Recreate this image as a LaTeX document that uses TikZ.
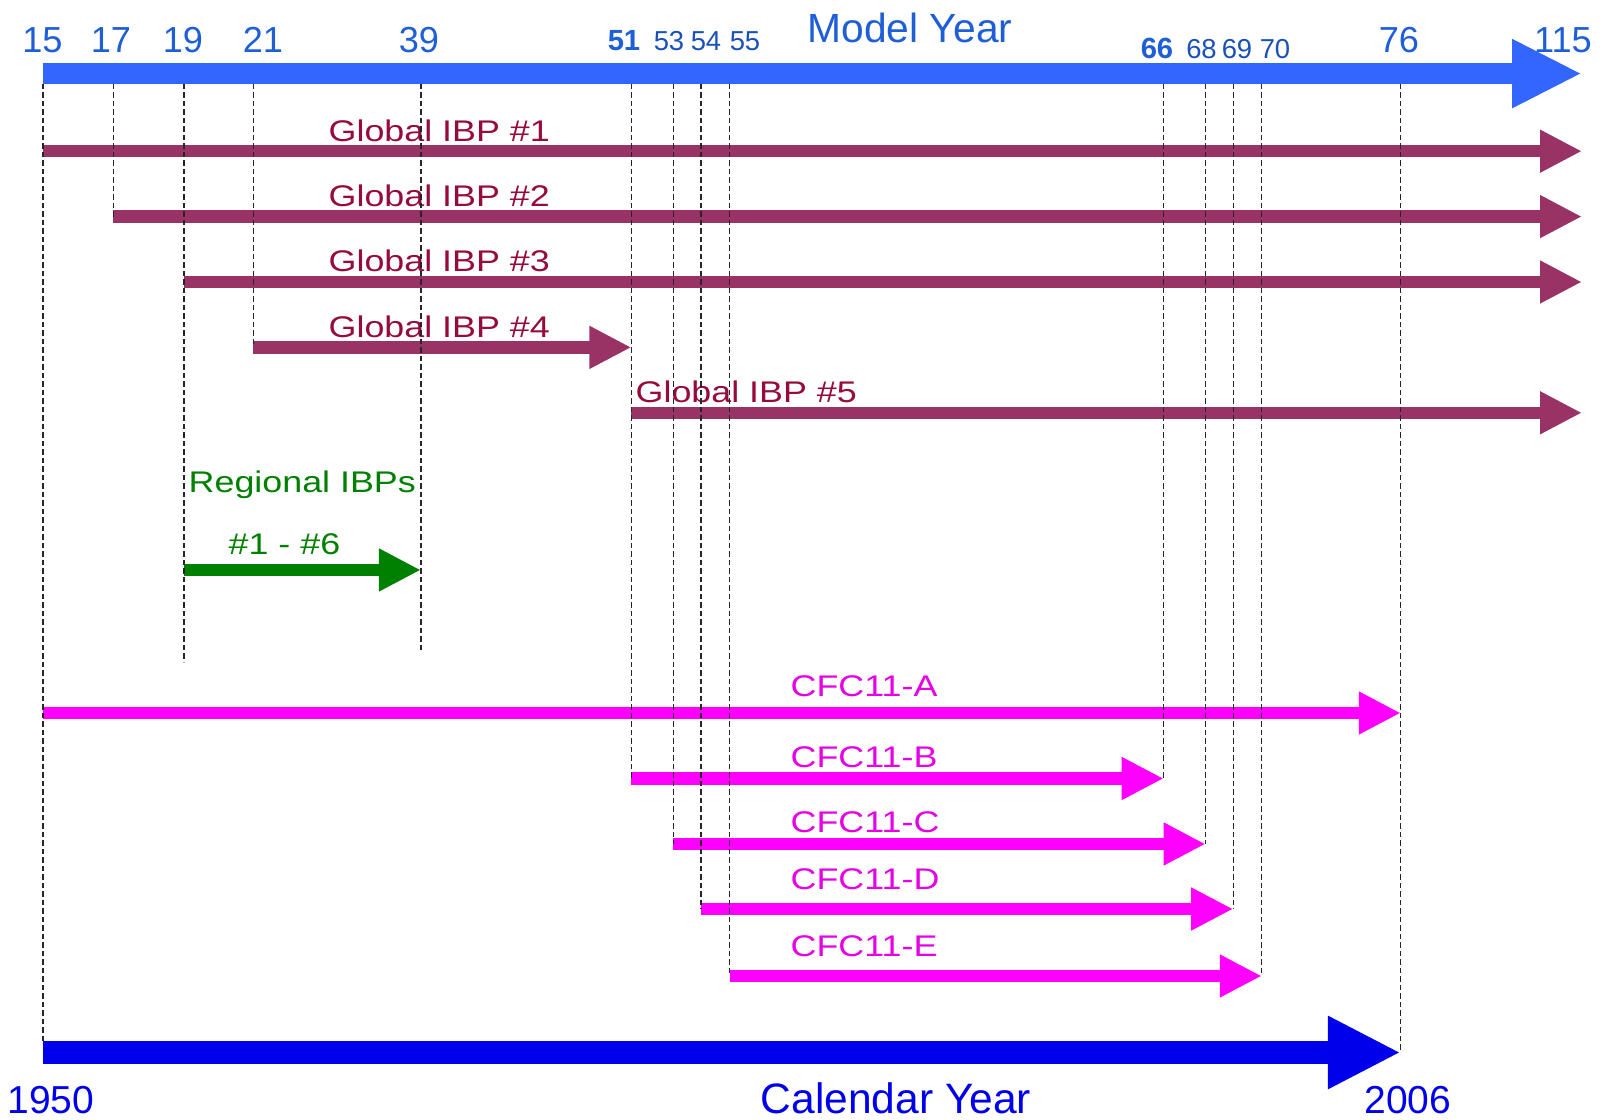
\documentclass[tikz,border=0pt]{standalone}
\usepackage{fontspec}
\setmainfont{Liberation Sans}
\newfontfamily\widesans[FakeStretch=1.2]{Liberation Sans}
\usetikzlibrary{arrows.meta,positioning}
\definecolor{modelblue}{RGB}{51,102,255}
\definecolor{yearblue}{RGB}{30,95,215}
\definecolor{calblue}{RGB}{0,0,235}
\definecolor{ibpbar}{RGB}{153,51,102}
\definecolor{ibptext}{RGB}{150,10,60}
\definecolor{reggreen}{RGB}{0,128,0}
\definecolor{cfcpink}{RGB}{255,0,255}
\tikzset{
    modelbar/.style={line width=2.04mm,modelblue,-{Triangle[length=7mm,width=6.4mm]}},
    calbar/.style={line width=2.25mm,calblue,-{Triangle[length=7.3mm,width=6.8mm]}},
    run/.style={line width=1.25mm,-{Triangle[length=4.2mm,width=4mm]}},
    ibp/.style={run,ibpbar},
    reg/.style={run,reggreen},
    cfc/.style={run,cfcpink},
    guide/.style={dash pattern=on 0.55mm off 0.3mm,line width=0.35pt,black!85},
    yr/.style={anchor=base,inner sep=0pt,yearblue,font=\fontsize{10.3}{12}\selectfont},
    yrsmall/.style={anchor=base,inner sep=0pt,yearblue!85!black,font=\fontsize{7.8}{9}\selectfont},
    yrbold/.style={anchor=base,inner sep=0pt,yearblue,font=\fontsize{8.3}{10}\selectfont\bfseries},
    cal/.style={anchor=base,inner sep=0pt,calblue,font=\fontsize{11.1}{13}\selectfont},
    lbl/.style={anchor=base west,inner sep=0pt,font=\widesans\fontsize{8.5}{10}\selectfont}
}

\begin{document}
\begin{tikzpicture}[x=0.1mm,y=-0.1mm]
\useasboundingbox (0,0) rectangle (1602,1120);
% ticks under the model year bar
\foreach \yr/\xx in {15/42.9,17/113.4,19/183.9,21/253.4,39/420.9,51/631.4,53/673.3,54/700.9,55/729.5,
                     66/1163.7,68/1205.6,69/1233.2,70/1261.8,76/1400.8,115/1582}
    \coordinate (t\yr) at (\xx,84);
% rows
\coordinate (mrow) at (0,73.6);
\coordinate (i1) at (0,151.2);
\coordinate (i2) at (0,216.6);
\coordinate (i3) at (0,282);
\coordinate (i4) at (0,347.4);
\coordinate (i5) at (0,412.8);
\coordinate (rg) at (0,570);
\coordinate (ca) at (0,713);
\coordinate (cb) at (0,778.5);
\coordinate (cc) at (0,844);
\coordinate (cd) at (0,909);
\coordinate (ce) at (0,976);
\coordinate (crow) at (0,1052.5);
\coordinate (e15) at (42.9,1041);
\coordinate (e19) at (183.9,662);
\coordinate (e39) at (420.9,650);

% model year axis
\draw[modelbar] (t15 |- mrow) -- (t115 |- mrow);
\foreach \yr/\xx in {15/42.5,17/111,19/183,21/263,39/419,76/1399,115/1563}
    \node[yr] (l\yr) at (\xx,53) {\yr};
\node[yrbold] (l51) at (624,51) {51};
\foreach \yr/\xx in {53/669,54/706,55/745}
    \node[yrsmall] (l\yr) at (\xx,51) {\yr};
\node[yr,font=\fontsize{11.6}{13}\selectfont] (model) at (910,43) {Model Year};
\node[yrbold] (l66) at (1157,59) {66};
\foreach \yr/\xx in {68/1201.5,69/1237,70/1275}
    \node[yrsmall] (l\yr) at (\xx,59) {\yr};

% global IBPs
\draw[ibp] (t15 |- i1) -- (t115 |- i1);
\draw[ibp] (t17 |- i2) -- (t115 |- i2);
\draw[ibp] (t19 |- i3) -- (t115 |- i3);
\draw[ibp] (t21 |- i4) -- (t51 |- i4);
\draw[ibp] (t51 |- i5) -- (t115 |- i5);
\node[lbl,ibptext] (g1) at (328,142) {Global IBP \#1};
\node[lbl,ibptext] (g2) at (328,207) {Global IBP \#2};
\node[lbl,ibptext] (g3) at (328,272) {Global IBP \#3};
\node[lbl,ibptext] (g4) at (328,338) {Global IBP \#4};
\node[lbl,ibptext] (g5) at (635,403) {Global IBP \#5};

% regional IBPs
\draw[reg] (t19 |- rg) -- (t39 |- rg);
\node[lbl,reggreen] (regional) at (188,493) {Regional IBPs};
\node[lbl,reggreen] (regnum) at (228,555) {\#1 - \#6};

% CFC11 runs
\draw[cfc] (t15 |- ca) -- (t76 |- ca);
\draw[cfc] (t51 |- cb) -- (t66 |- cb);
\draw[cfc] (t53 |- cc) -- (t68 |- cc);
\draw[cfc] (t54 |- cd) -- (t69 |- cd);
\draw[cfc] (t55 |- ce) -- (t70 |- ce);
\node[lbl,cfcpink!90!black] (cfca) at (790,697) {CFC11-A};
\node[lbl,cfcpink!90!black] (cfcb) at (790,768) {CFC11-B};
\node[lbl,cfcpink!90!black] (cfcc) at (790,833) {CFC11-C};
\node[lbl,cfcpink!90!black] (cfcd) at (790,890) {CFC11-D};
\node[lbl,cfcpink!90!black] (cfce) at (790,957) {CFC11-E};

% calendar year axis
\draw[calbar] (t15 |- crow) -- (t76 |- crow);
\node[cal] (y1950) at (51,1114) {1950};
\node[cal,font=\fontsize{12.1}{14}\selectfont] (calendar) at (896,1114) {Calendar Year};
\node[cal] (y2006) at (1408,1114) {2006};

% guide lines
\draw[guide] (t15) -- (e15);
\draw[guide] (t19) -- (e19);
\draw[guide] (t39) -- (e39);
\foreach \yr/\row in {17/i2,21/i4,51/cb,53/cc,54/cd,55/ce,66/cb,68/cc,69/cd,70/ce,76/crow}
    \draw[guide] (t\yr) -- (t\yr |- \row);
\end{tikzpicture}
\end{document}
